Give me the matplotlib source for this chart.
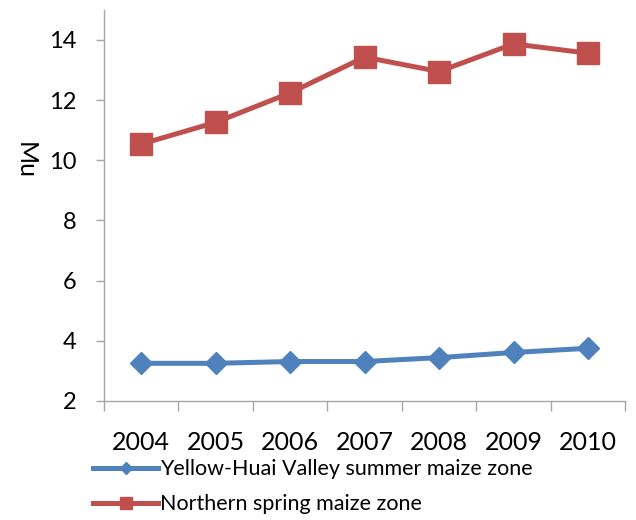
import matplotlib
matplotlib.use("Agg")
import matplotlib.pyplot as plt

# values
years = [2004, 2005, 2006, 2007, 2008, 2009, 2010]
yellow_huai = [3.25, 3.25, 3.31, 3.31, 3.44, 3.61, 3.75]
northern_spring = [10.54, 11.26, 12.24, 13.43, 12.95, 13.87, 13.56]
yticks = [2, 4, 6, 8, 10, 12, 14]

plt.rcParams['font.family'] = ['Lato', 'DejaVu Sans']

fig = plt.figure(figsize=(6.36, 5.2), dpi=100)
ax = fig.add_axes([0.1635, 0.229, 0.8195, 0.752])

ax.plot(years, yellow_huai, color='#4F81BD', lw=3.6, marker='D', ms=11.5,
        label='Yellow-Huai Valley summer maize zone')
ax.plot(years, northern_spring, color='#C0504D', lw=3.6, marker='s', ms=16,
        label='Northern spring maize zone')

ax.set_ylim(2, 15)
ax.set_yticks(yticks)
ax.set_xlim(years[0] - 0.5, years[-1] + 0.5)
ax.set_xticks(years)
ax.set_xticks([y - 0.5 for y in years] + [years[-1] + 0.5], minor=True)

for s in ['top', 'right']:
    ax.spines[s].set_visible(False)
for s in ['left', 'bottom']:
    ax.spines[s].set_color('#A6A6A6')
    ax.spines[s].set_linewidth(1.0)

ax.tick_params(axis='y', length=6, width=1, color='#A6A6A6', labelsize=17, pad=14)
ax.tick_params(axis='x', which='major', length=0, labelsize=18, pad=22)
ax.tick_params(axis='x', which='minor', length=7, width=1, color='#A6A6A6')

fig.text(25 / 636, 1 - 160 / 520, 'Mu', rotation=-90, fontsize=18,
         ha='center', va='center')

fig.legend(loc='upper left', bbox_to_anchor=(0.147, 0.117), frameon=False,
           fontsize=15.5, handlelength=3.0, handletextpad=0.1, markerscale=0.5,
           labelspacing=0.7, borderaxespad=0, borderpad=0)

fig.savefig('out.png', dpi=100)
